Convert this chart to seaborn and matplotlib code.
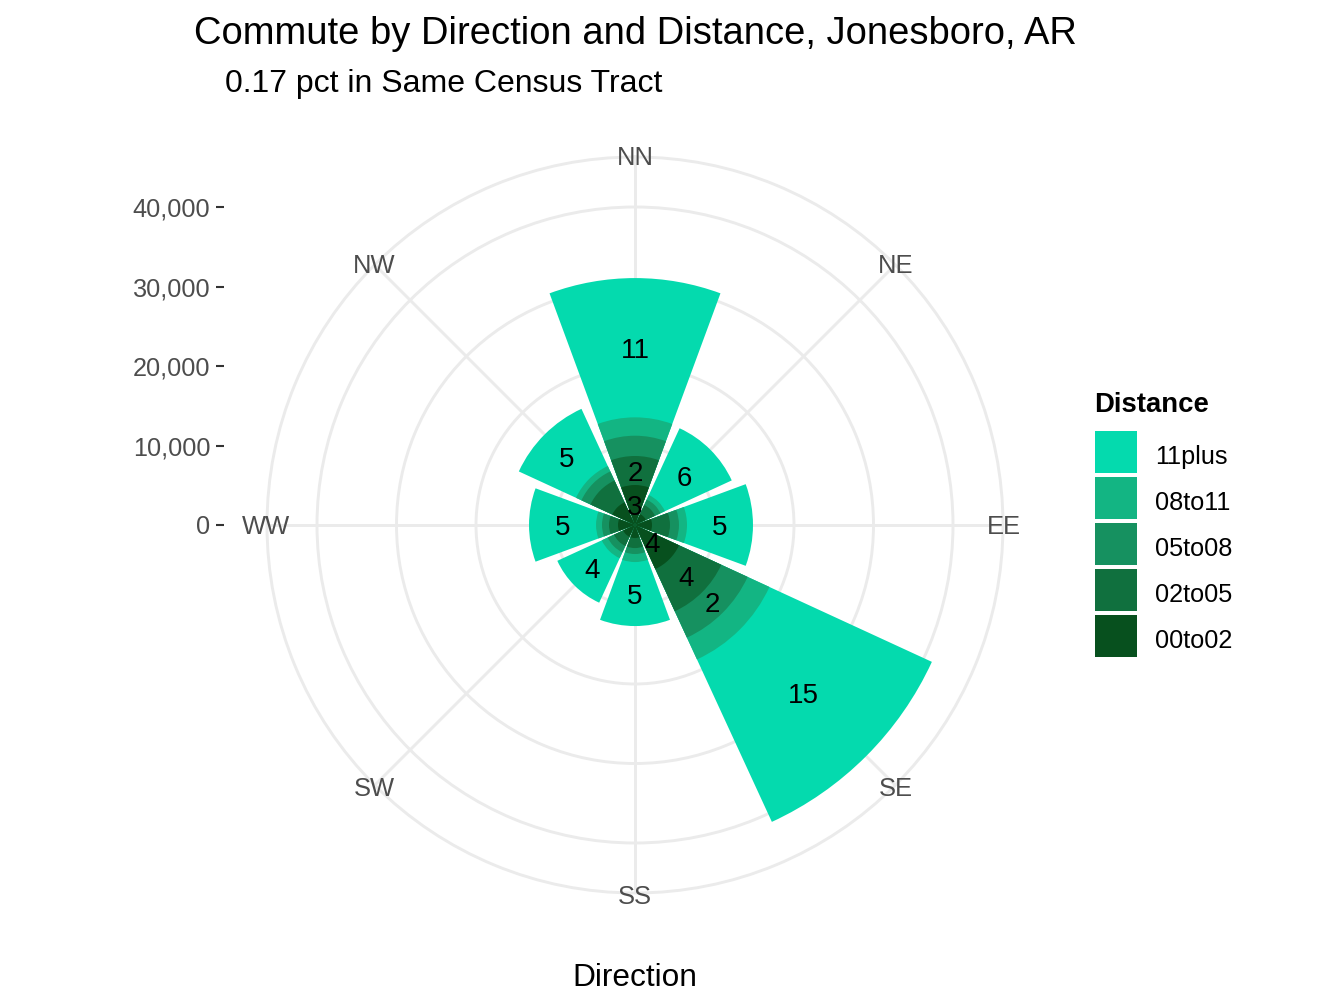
import numpy as np
import pandas as pd
import matplotlib
matplotlib.use("Agg")
import matplotlib.pyplot as plt
import seaborn as sns

directions = ['NN', 'NE', 'EE', 'SE', 'SS', 'SW', 'WW', 'NW']
compass_deg = [0, 45, 90, 135, 180, 225, 270, 315]
distances = ['11plus', '08to11', '05to08', '02to05', '00to02']
colors = ['#04DAAE', '#13B583', '#169160', '#10703E', '#07501E']

# commuters per direction
d_00to02 = [5030, 1510, 2140, 6100, 1640, 1640, 2140, 3140]
d_02to05 = [3650, 1260, 2260, 5850, 1260, 1260, 1130, 3020]
d_05to08 = [2550, 750, 1130, 3650, 750, 880, 880, 1260]
d_08to11 = [2310, 630, 1010, 3020, 1010, 820, 750, 750]
d_11plus = [17520, 9250, 8300, 22500, 8050, 6160, 8430, 7920]

# percent labels, 0 means no label was printed
p_00to02 = [3, 0, 0, 4, 0, 0, 0, 0]
p_02to05 = [2, 0, 0, 4, 0, 0, 0, 0]
p_05to08 = [0, 0, 0, 2, 0, 0, 0, 0]
p_08to11 = [0, 0, 0, 0, 0, 0, 0, 0]
p_11plus = [11, 6, 5, 15, 5, 4, 5, 5]

r_ticks = [0, 10000, 20000, 30000, 40000]
r_max = 46290

sns.set_theme(style="white")
plt.rcParams['font.family'] = ['Liberation Sans', 'DejaVu Sans']

# stack from the inside out
stack = np.cumsum([d_00to02, d_02to05, d_05to08, d_08to11, d_11plus], axis=0)
pcts = [p_00to02, p_02to05, p_05to08, p_08to11, p_11plus]
theta = np.deg2rad(compass_deg)

rows = []
for i, name in enumerate(distances[::-1]):
    for j in range(len(directions)):
        rows.append({'theta': theta[j], 'top': stack[i][j], 'Distance': name})
df = pd.DataFrame(rows)

W, H = 1344, 1008
cx, cy, rad = 635, 525, 368

fig = plt.figure(figsize=(13.44, 10.08), dpi=100)
ax = fig.add_axes([(cx - rad) / W, (H - cy - rad) / H, 2 * rad / W, 2 * rad / H], projection='polar')
ax.set_theta_zero_location('N')
ax.set_theta_direction(-1)

# outermost level first so the inner rings paint over it
sns.barplot(data=df, x='theta', y='top', hue='Distance', hue_order=distances,
            palette=colors, dodge=False, native_scale=True, width=0.9,
            errorbar=None, saturation=1, linewidth=0, ax=ax)

ax.set_ylim(0, r_max)
ax.set_xticks(theta, labels=directions)
ax.set_yticks(r_ticks[1:], labels=[])
# theta labels sit right on the outer ring
ax.tick_params(axis='x', pad=-12.2, labelsize=18.4, labelcolor='#4D4D4D')
for lab in ax.get_xticklabels():
    lab.set_va('center_baseline')
ax.grid(True, color='#EBEBEB', linewidth=2.1)
ax.set_axisbelow(True)
# keep the ring under the theta labels
ax.xaxis.set_zorder(0.6)
ax.spines['polar'].set_color('#EBEBEB')
ax.spines['polar'].set_linewidth(2.1)
ax.spines['polar'].set_zorder(0.4)
ax.set_ylabel('')
ax.set_xlabel('Direction', fontsize=22.8, color='black')
ax.xaxis.set_label_coords(0.5, -(978.5 - (cy + rad)) / (2 * rad))
ax.xaxis.label.set_va('center')

# percent labels in the middle of each segment
for i in range(len(distances)):
    for j in range(len(directions)):
        if pcts[i][j] > 0:
            low = stack[i - 1][j] if i > 0 else 0
            ax.annotate(str(pcts[i][j]), xy=(theta[j], (low + stack[i][j]) / 2),
                        xytext=(0, -2.2), textcoords='offset points',
                        ha='center', va='center', fontsize=20, color='black')

# the count axis sits off to the left, outside the circle
ax_r = fig.add_axes([224 / W, (H - cy) / H, 1 / W, rad / H])
ax_r.set_ylim(0, r_max)
ax_r.set_yticks(r_ticks, labels=[f'{v:,}' for v in r_ticks])
ax_r.set_xticks([])
ax_r.patch.set_visible(False)
for side in ax_r.spines:
    ax_r.spines[side].set_visible(False)
ax_r.tick_params(axis='y', left=True, length=5.8, width=1.5, color='#333333', pad=4,
                 labelsize=18.2, labelcolor='#4D4D4D')

sns.move_legend(ax, loc='upper left', bbox_to_anchor=(1094.5 / W, 1 - 392 / H),
                bbox_transform=fig.transFigure, frameon=False, title='Distance',
                fontsize=18.2, title_fontsize=19.8, handlelength=1.68, handleheight=2.21,
                labelspacing=0.14, handletextpad=0.72, borderpad=0, borderaxespad=0,
                alignment='left', labelcolor='black')
leg = ax.get_legend()
leg.get_title().set_fontweight('bold')
leg.get_title().set_color('black')
leg._legend_box.sep = 9
for t in leg.get_texts():
    t.set_y(-4)

fig.text(194 / W, 1 - 34 / H, 'Commute by Direction and Distance, Jonesboro, AR',
         fontsize=27.45, color='black', ha='left', va='center')
fig.text(225 / W, 1 - 84 / H, '0.17 pct in Same Census Tract',
         fontsize=23, color='black', ha='left', va='center')

fig.savefig('out.png', dpi=100)
